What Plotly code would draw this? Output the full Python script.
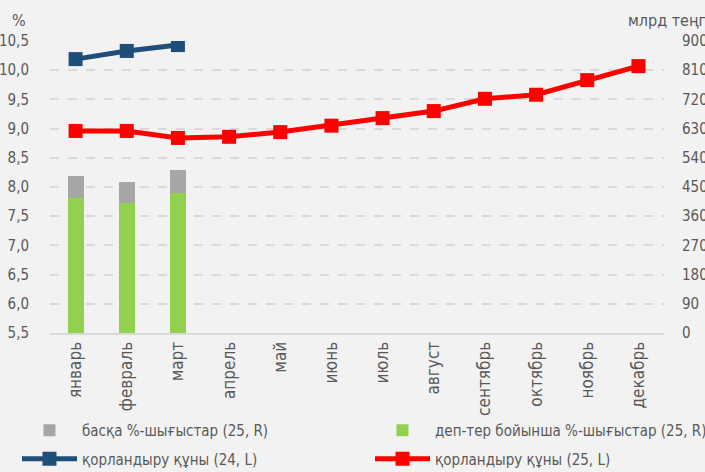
import plotly.graph_objects as go

months = ["январь", "февраль", "март", "апрель", "май", "июнь", "июль",
          "август", "сентябрь", "октябрь", "ноябрь", "декабрь"]

other_exp_25 = [68, 64, 70]          # басқа %-шығыстар (25, R), млрд теңге
deposit_exp_25 = [416, 401, 432]     # деп-тер бойынша %-шығыстар (25, R)
cost_24 = [10.19, 10.33, 10.43]      # қорландыру құны (24, L), %
cost_25 = [8.96, 8.96, 8.84, 8.86, 8.94, 9.05, 9.18, 9.30, 9.51, 9.58, 9.83, 10.07]

FONT = "DejaVu Sans Condensed, Liberation Sans Narrow, Roboto, sans-serif"
TXT = "#595959"
GRID = "#d9d9d9"

L, R, T, B = 50, 664, 41, 333
PW, PH = R - L, B - T

def px(x):
    return (x - L) / PW

def py(y):
    return (B - y) / PH

fig = go.Figure()
fig.add_trace(go.Bar(x=months[:3], y=deposit_exp_25, yaxis="y2",
                     name="деп-тер бойынша %-шығыстар (25, R)",
                     marker=dict(color="#92d050", line=dict(width=0)),
                     width=0.31, legend="legend2", legendgroup="g2"))
fig.add_trace(go.Bar(x=months[:3], y=other_exp_25, yaxis="y2",
                     name="басқа %-шығыстар (25, R)",
                     marker=dict(color="#a6a6a6", line=dict(width=0)),
                     width=0.31, legend="legend", legendgroup="g1"))
fig.add_trace(go.Scatter(x=months[:3], y=cost_24, yaxis="y", mode="lines+markers",
                         name="қорландыру құны (24, L)",
                         line=dict(color="#1f4e79", width=5),
                         marker=dict(symbol="square", size=14, color="#1f4e79"),
                         legend="legend", legendgroup="g3"))
fig.add_trace(go.Scatter(x=months, y=cost_25, yaxis="y", mode="lines+markers",
                         name="қорландыру құны (25, L)",
                         line=dict(color="#ff0000", width=5),
                         marker=dict(symbol="square", size=14, color="#ff0000"),
                         legend="legend2", legendgroup="g4"))

leg_common = dict(orientation="v", xref="container", yref="container",
                  yanchor="top", xanchor="left", traceorder="grouped",
                  font=dict(size=15), bgcolor="rgba(0,0,0,0)",
                  tracegroupgap=6, itemwidth=55)

fig.update_layout(
    width=705, height=472,
    margin=dict(l=L, r=705 - R, t=T, b=472 - B, autoexpand=False),
    paper_bgcolor="#f2f2f2", plot_bgcolor="#f2f2f2",
    separators=", ",
    barmode="stack",
    font=dict(family=FONT, size=15, color=TXT),
    xaxis=dict(categoryorder="array", categoryarray=months, range=[-0.5, 11.5],
               tickangle=-90, tickfont=dict(size=17), showgrid=False,
               showline=True, linecolor=GRID, linewidth=2, ticks="",
               automargin=False),
    yaxis=dict(range=[5.5, 10.5], dtick=0.5, tickformat=".1f",
               showgrid=True, gridcolor=GRID, griddash="dash", gridwidth=2,
               zeroline=False, ticklabelstandoff=20, tickfont=dict(size=15),
               automargin=False),
    yaxis2=dict(range=[0, 900], dtick=90, overlaying="y", side="right",
                showgrid=False, zeroline=False, ticklabelstandoff=17,
                tickfont=dict(size=15), automargin=False),
    legend=dict(x=17 / 705, y=1 - 414 / 472, **leg_common),
    legend2=dict(x=370 / 705, y=1 - 414 / 472, **leg_common),
    annotations=[
        dict(text="%", xref="paper", yref="paper", x=px(10), y=py(20),
             xanchor="left", yanchor="middle", showarrow=False, font=dict(size=16)),
        dict(text="млрд теңге", xref="paper", yref="paper", x=px(626),
             y=py(20), xanchor="left", yanchor="middle", showarrow=False,
             font=dict(size=16)),
    ],
)

fig.write_html("out.html")
